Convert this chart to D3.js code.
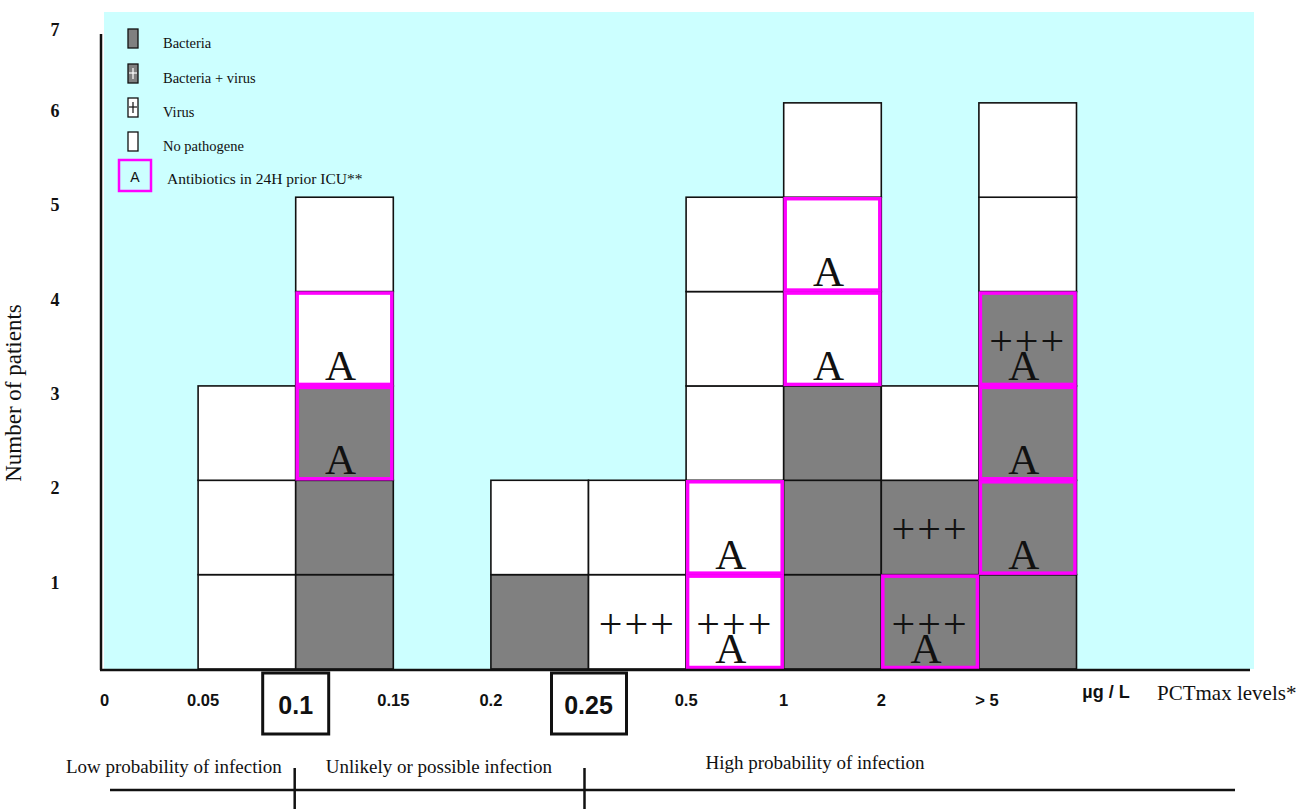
<!DOCTYPE html>
<html><head><meta charset="utf-8">
<script src="https://cdn.jsdelivr.net/npm/d3@7"></script>
<style>body{margin:0;background:#fff}svg{display:block}</style>
</head><body><svg id="c" width="1306" height="809"></svg>
<script>
// ---- data ----
const bins = ["0-0.05","0.05-0.1","0.1-0.15","0.15-0.2","0.2-0.25","0.25-0.5","0.5-1","1-2","2-5",">5"];
const xTickLabels = ["0","0.05","0.1","0.15","0.2","0.25","0.5","1","2","> 5"];
const boxedTicks = ["0.1","0.25"];
const yTicks = [1,2,3,4,5,6,7];
// pathogen per patient, stacked bottom-up: B bacteria, BV bacteria+virus, V virus, N no pathogene
const pathogen = [
  [],
  ["N","N","N"],
  ["B","B","B","N","N"],
  [],
  ["B","N"],
  ["V","N"],
  ["V","N","N","N","N"],
  ["B","B","B","N","N","N"],
  ["BV","BV","N"],
  ["B","B","B","BV","N","N"]
];
// antibiotics in 24H prior ICU (1 = yes)
const antibiotics = [
  [],
  [0,0,0],
  [0,0,1,1,0],
  [],
  [0,0],
  [0,0],
  [1,1,0,0,0],
  [0,0,0,1,1,0],
  [1,0,0],
  [0,1,1,1,0,0]
];
const legendItems = [
  {code:"B", label:"Bacteria"},
  {code:"BV", label:"Bacteria + virus"},
  {code:"V", label:"Virus"},
  {code:"N", label:"No pathogene"}
];
const zones = ["Low probability of infection","Unlikely or possible infection","High probability of infection"];

// ---- drawing ----
const svg = d3.select("#c");
const serif = "'Liberation Serif','Times New Roman',serif";
const sans = "'Liberation Sans Narrow','Liberation Sans',Arial,sans-serif";

const x = d3.scaleBand().domain(bins).range([100.5, 1076.5]).padding(0);
const y = d3.scaleLinear().domain([0, 7]).range([669, 8.5]);
const fill = {B:"#808080", BV:"#808080", V:"#ffffff", N:"#ffffff"};

// background
svg.append("rect").attr("x",104).attr("y",12).attr("width",1150).attr("height",657).attr("fill","#ccffff");

// cells
const cells = [];
bins.forEach((b,i)=>{
  pathogen[i].forEach((p,k)=>cells.push({bin:b, k, p, a:antibiotics[i][k]}));
});
const g = svg.append("g");
g.selectAll("rect.cell").data(cells).join("rect").attr("class","cell")
  .attr("x",d=>x(d.bin)).attr("y",d=>y(d.k+1))
  .attr("width",x.bandwidth()).attr("height",d=>y(d.k)-y(d.k+1))
  .attr("fill",d=>fill[d.p]).attr("stroke","#111").attr("stroke-width",1.6);
g.selectAll("rect.ab").data(cells.filter(d=>d.a)).join("rect").attr("class","ab")
  .attr("x",d=>x(d.bin)+1.5).attr("y",d=>y(d.k+1)+1.5)
  .attr("width",x.bandwidth()-3).attr("height",d=>y(d.k)-y(d.k+1)-3)
  .attr("fill","none").attr("stroke","#ff00ff").attr("stroke-width",3.5);
g.selectAll("text.plus").data(cells.filter(d=>d.p==="V"||d.p==="BV")).join("text").attr("class","plus")
  .attr("x",d=>x(d.bin)+x.bandwidth()/2).attr("y",d=>(y(d.k)+y(d.k+1))/2+2)
  .attr("text-anchor","middle").attr("dominant-baseline","central")
  .attr("font-family",serif).attr("font-size",42).attr("letter-spacing",2).attr("fill","#111").text("+++");
g.selectAll("text.a").data(cells.filter(d=>d.a)).join("text").attr("class","a")
  .attr("x",d=>x(d.bin)+x.bandwidth()/2-4).attr("y",d=>y(d.k)-6)
  .attr("text-anchor","middle")
  .attr("font-family",serif).attr("font-size",43).attr("fill","#111").text("A");

// axes lines
svg.append("line").attr("x1",101).attr("x2",101).attr("y1",34).attr("y2",670).attr("stroke","#111").attr("stroke-width",2.5);
svg.append("line").attr("x1",100).attr("x2",1250).attr("y1",670).attr("y2",670).attr("stroke","#111").attr("stroke-width",2.5);

// y tick labels
svg.selectAll("text.yt").data(yTicks).join("text").attr("class","yt")
  .attr("x",55).attr("y",d=>Math.max(y(d)+8, 30)).attr("text-anchor","middle").attr("dominant-baseline","central")
  .attr("font-family",serif).attr("font-weight","bold").attr("font-size",18).attr("fill","#111").text(d=>d);
svg.append("text").attr("transform","translate(21,393) rotate(-90)").attr("text-anchor","middle")
  .attr("font-family",serif).attr("font-size",23).attr("fill","#111").text("Number of patients");

// x tick labels
const xt = svg.selectAll("g.xt").data(xTickLabels.map((t,i)=>({t, xp:x(bins[i])}))).join("g").attr("class","xt")
  .attr("transform",d=>`translate(${d.xp+ (d.t==="0"?4:(d.t==="> 5"?8:(d.t==="0.05"?5:0)))},0)`);
xt.filter(d=>boxedTicks.includes(d.t)).append("rect")
  .attr("x",d=>d.t==="0.1"?-33:-37).attr("y",673).attr("width",d=>d.t==="0.1"?66:75).attr("height",61)
  .attr("fill","none").attr("stroke","#111").attr("stroke-width",3);
xt.append("text").attr("x",0).attr("y",d=>boxedTicks.includes(d.t)?705:700)
  .attr("text-anchor","middle").attr("dominant-baseline","central")
  .attr("font-family",sans).attr("font-weight","bold")
  .attr("font-size",d=>boxedTicks.includes(d.t)?25:16.5).attr("fill","#111").text(d=>d.t);
svg.append("text").attr("x",1106).attr("y",692).attr("text-anchor","middle").attr("dominant-baseline","central")
  .attr("font-family",sans).attr("font-weight","bold").attr("font-size",18).attr("fill","#111").text("µg / L");
svg.append("text").attr("x",1157).attr("y",693).attr("dominant-baseline","central")
  .attr("font-family",serif).attr("font-size",21).attr("fill","#111").text("PCTmax levels*");

// legend
const lg = svg.append("g");
const lgi = lg.selectAll("g").data(legendItems).join("g").attr("transform",(d,i)=>`translate(128,${[29,64,98,132][i]})`);
lgi.append("rect").attr("width",10).attr("height",19).attr("fill",d=>fill[d.code]).attr("stroke","#111").attr("stroke-width",1.3);
lgi.filter(d=>d.code==="BV"||d.code==="V").each(function(d){
  const c = d.code==="BV"?"#fff":"#111";
  d3.select(this).append("line").attr("x1",1).attr("x2",9).attr("y1",9).attr("y2",9).attr("stroke",c).attr("stroke-width",1.2);
  d3.select(this).append("line").attr("x1",5).attr("x2",5).attr("y1",4).attr("y2",15).attr("stroke",c).attr("stroke-width",1.2);
});
lgi.append("text").attr("x",35).attr("y",14).attr("dominant-baseline","central")
  .attr("font-family",serif).attr("font-size",14.5).attr("fill","#111").text(d=>d.label);
lg.append("rect").attr("x",119).attr("y",160).attr("width",32).attr("height",31).attr("fill","none").attr("stroke","#ff00ff").attr("stroke-width",2.5);
lg.append("text").attr("x",135).attr("y",177).attr("text-anchor","middle").attr("dominant-baseline","central")
  .attr("font-family",sans).attr("font-size",14).attr("fill","#111").text("A");
lg.append("text").attr("x",167).attr("y",178).attr("dominant-baseline","central")
  .attr("font-family",serif).attr("font-size",15.5).attr("fill","#111").text("Antibiotics in 24H prior ICU**");

// probability zones
const b1 = x(bins[2])-1, b2 = x(bins[5])-4;
svg.append("line").attr("x1",110).attr("x2",1235).attr("y1",790).attr("y2",790).attr("stroke","#111").attr("stroke-width",2.5);
[b1,b2].forEach(bx=>svg.append("line").attr("x1",bx).attr("x2",bx).attr("y1",768).attr("y2",809).attr("stroke","#111").attr("stroke-width",2.5));
svg.append("text").attr("x",b1-13).attr("y",766).attr("text-anchor","end").attr("dominant-baseline","central")
  .attr("font-family",serif).attr("font-size",19).attr("fill","#111").text(zones[0]);
svg.append("text").attr("x",b1+31).attr("y",766).attr("dominant-baseline","central")
  .attr("font-family",serif).attr("font-size",19).attr("fill","#111").text(zones[1]);
svg.append("text").attr("x",b2+121).attr("y",762).attr("dominant-baseline","central")
  .attr("font-family",serif).attr("font-size",19).attr("fill","#111").text(zones[2]);
</script></body></html>
